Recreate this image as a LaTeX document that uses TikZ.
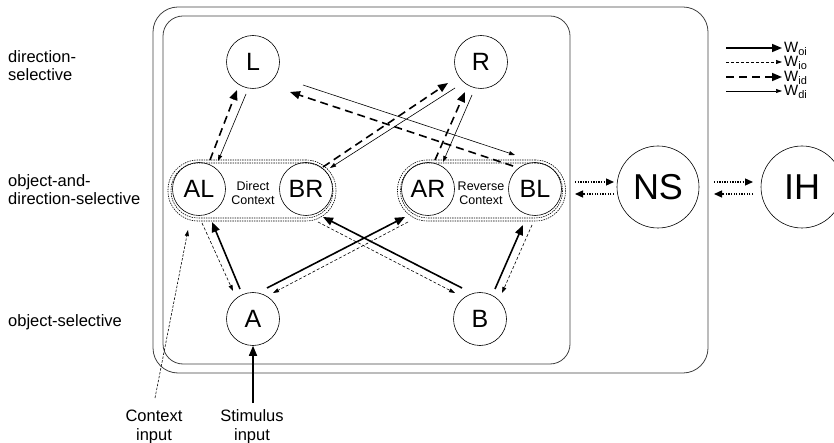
\documentclass[tikz,border=0pt]{standalone}
\usepackage{fontspec}
\setmainfont{Liberation Sans}
\usetikzlibrary{arrows.meta,calc}
\newcommand{\wsub}[1]{W\raisebox{-3pt}{\fontsize{11}{11}\selectfont #1}}
\begin{document}
\begin{tikzpicture}[x=1pt,y=-1pt,
  unit/.style={circle,draw,line width=0.6pt,minimum size=53pt,inner sep=0pt,font=\fontsize{25}{25}\selectfont},
  bigunit/.style={unit,minimum size=82pt,font=\fontsize{36}{36}\selectfont},
  grpline/.style={draw,line width=0.6pt,dash pattern=on 1.4pt off 1pt,inner sep=0pt},
  grpout/.style={grpline,rounded corners=30pt,minimum width=168pt,minimum height=61pt},
  grpin/.style={grpline,rounded corners=27pt,minimum width=162pt,minimum height=55pt},
  frame/.style={draw=black!75,line width=0.8pt},
  lbl/.style={anchor=west,align=left,inner sep=0pt,font=\fontsize{16.5}{18}\selectfont},
  ctx/.style={align=center,inner sep=0pt,font=\fontsize{12.5}{14}\selectfont},
  bottomlbl/.style={align=center,inner sep=0pt,font=\fontsize{16.5}{19}\selectfont},
  bigtip/.style={-{Triangle[length=10pt,width=8pt]}},
  smalltip/.style={-{Triangle[length=6pt,width=4pt]}},
  woi/.style={line width=1.6pt,bigtip},
  wio/.style={line width=0.6pt,dash pattern=on 3pt off 2pt,smalltip},
  wid/.style={line width=1.6pt,dash pattern=on 8pt off 5pt,bigtip},
  wdi/.style={line width=0.6pt,smalltip},
  xlink/.style={line width=1.3pt,dash pattern=on 1.3pt off 1.3pt,-{Triangle[length=8pt,width=7pt]}},
  ctxin/.style={line width=0.6pt,dash pattern=on 2.5pt off 1.5pt,smalltip},
  wlab/.style={anchor=base west,inner sep=0pt,font=\fontsize{15}{15}\selectfont}]
\useasboundingbox (0,0) rectangle (834,443);

% frames
\draw[frame,rounded corners=25pt] (153,7) rectangle (708,373);
\draw[frame,rounded corners=20pt] (163,16) rectangle (570,364);

% context groups (double dotted outline)
\node[grpout] (DC) at (252,190.5) {};
\node[grpin]  (DCi) at (252,190.5) {};
\node[grpout] (RC) at (481.5,190.5) {};
\node[grpin]  (RCi) at (481.5,190.5) {};

% units
\node[unit] (L)  at (253,62)  {L};
\node[unit] (R)  at (481,62)  {R};
\node[unit] (AL) at (199,189) {AL};
\node[unit] (BR) at (306,189) {BR};
\node[unit] (AR) at (428,189) {AR};
\node[unit] (BL) at (535,189) {BL};
\node[unit] (A)  at (253,319) {A};
\node[unit] (B)  at (480,319) {B};
\node[bigunit] (NS) at (658,187) {NS};
\node[bigunit] (IH) at (802,187) {IH};

\node[ctx] (dctext) at (253,193) {Direct\\Context};
\node[ctx] (rctext) at (481,193) {Reverse\\Context};

% layer labels
\node[lbl] (l1) at (8,66)  {direction-\\selective};
\node[lbl] (l2) at (8,190) {object-and-\\direction-selective};
\node[lbl] (l3) at (8,322) {object-selective};

% upper connections
\draw[wid] ($(AL)+(11,-29)$) -- ($(L)+(-16,28)$);
\draw[wdi] ($(L)+(-7,32)$) -- ($(AL)+(19,-28)$);
\draw[wid] ($(BR)+(17,-22)$) -- ($(R)+(-33,21)$);
\draw[wdi] ($(R)+(-26,26)$) -- ($(BR)+(24,-21)$);
\draw[wid] ($(AR)+(7,-29)$) -- ($(R)+(-16,30)$);
\draw[wdi] ($(R)+(-9,33)$) -- ($(AR)+(15,-27)$);
\draw[wid] ($(BL)+(-22,-23)$) -- ($(L)+(37,30)$);
\draw[wdi] ($(L)+(50,23)$) -- ($(BL)+(-20,-34)$);

% lower connections
\draw[woi] ($(A)+(-13,-30)$) -- ($(AL)+(13,33)$);
\draw[wio] ($(AL)+(3,34)$) -- ($(A)+(-20,-28)$);
\draw[woi] ($(A)+(14,-31)$) -- ($(AR)+(-23,28)$);
\draw[wio] ($(AR)+(-20,33)$) -- ($(A)+(20,-26)$);
\draw[woi] ($(B)+(-18,-31)$) -- ($(BR)+(17,28)$);
\draw[wio] ($(BR)+(12,33)$) -- ($(B)+(-25,-26)$);
\draw[woi] ($(B)+(15,-30)$) -- ($(BL)+(-12,36)$);
\draw[wio] ($(BL)+(-3,36)$) -- ($(B)+(22,-26)$);

% links to NS and IH
\draw[xlink] ($(NS)+(-83,-5)$) -- ($(NS)+(-44,-5)$);
\draw[xlink] ($(NS)+(-44,7)$) -- ($(NS)+(-83,7)$);
\draw[xlink] ($(IH)+(-88,-5)$) -- ($(IH)+(-49,-5)$);
\draw[xlink] ($(IH)+(-49,7)$) -- ($(IH)+(-88,7)$);

% external inputs
\coordinate (ctxsrc) at (155,398);
\coordinate (stimsrc) at (253,403);
\draw[ctxin] (ctxsrc) -- ($(AL)+(-11,41)$);
\draw[woi] (stimsrc) -- (A.south);
\node[bottomlbl] (ctxlbl) at (154,427) {Context\\input};
\node[bottomlbl] (stimlbl) at (252,427) {Stimulus\\input};

% legend
\coordinate (k1) at (726,48); \coordinate (k1e) at (782,48);
\coordinate (k2) at (726,62); \coordinate (k2e) at (782,62);
\coordinate (k3) at (726,77); \coordinate (k3e) at (782,77);
\coordinate (k4) at (726,91); \coordinate (k4e) at (782,91);
\draw[woi] (k1) -- (k1e);
\draw[wio] (k2) -- (k2e);
\draw[wid] (k3) -- (k3e);
\draw[wdi] (k4) -- (k4e);
\node[wlab] (t1) at (784,53) {\wsub{oi}};
\node[wlab] (t2) at (784,67) {\wsub{io}};
\node[wlab] (t3) at (784,82) {\wsub{id}};
\node[wlab] (t4) at (784,96) {\wsub{di}};
\end{tikzpicture}
\end{document}
